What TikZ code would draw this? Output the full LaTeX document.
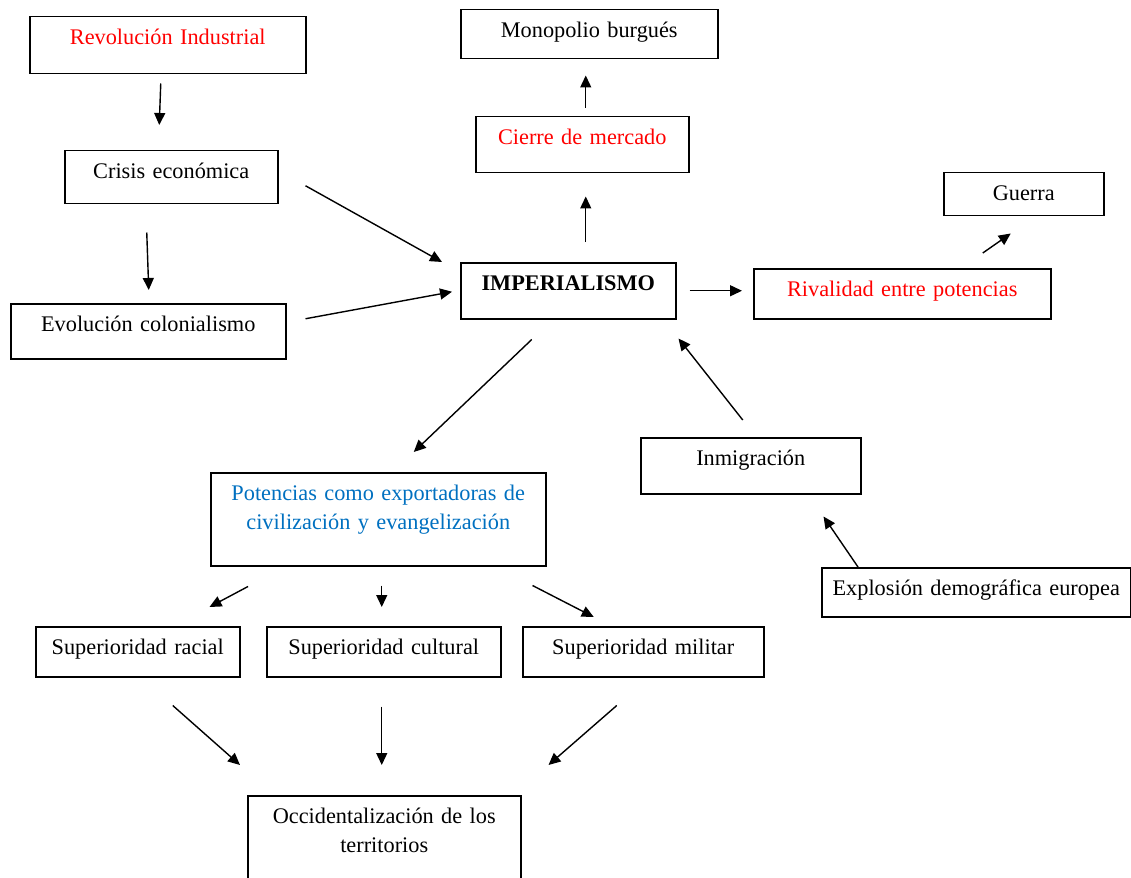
\documentclass[tikz,border=0pt]{standalone}
\usepackage{fontspec}
\setmainfont{Liberation Serif}
\usetikzlibrary{arrows.meta}
\definecolor{wred}{RGB}{255,0,0}
\definecolor{wblue}{RGB}{0,112,192}
\begin{document}
\begin{tikzpicture}[x=1pt,y=-1pt,
  bx/.style args={#1/#2}{draw, line width=1.5pt, inner sep=0pt, anchor=north west,
    text width=#1pt, align=center, text height=28pt, text depth=#2pt,
    font=\fontsize{22.3}{29}\selectfont},
  arr/.style={-{Triangle[length=12pt,width=11pt]}, line width=1.4pt}]
\useasboundingbox (0,0) rectangle (1131,877);
\node[bx=276/29, text=wred] (rev) at (29,16) {Revolución Industrial};
\node[bx=213/25] (crisis) at (64,150) {Crisis económica};
\node[bx=275/27] (evol) at (10,303) {Evolución colonialismo};
\node[bx=257/21] (mono) at (460,9) {Monopolio burgués};
\node[bx=213/28, text=wred] (cierre) at (475,116) {Cierre de mercado};
\node[bx=215/28] (imp) at (460,262) {\textbf{IMPERIALISMO}};
\node[bx=297/22, text=wred] (rival) at (753,268) {Rivalidad entre potencias};
\node[bx=160/15] (guerra) at (943,172) {Guerra};
\node[bx=220/28] (inmig) at (640,437) {Inmigración};
\node[bx=309/21] (explo) at (821,567) {Explosión demográfica europea};
\node[bx=335/65, text=wblue] (poten) at (210,472) {Potencias como exportadoras de\\civilización y evangelización};
\node[bx=204/22] (racial) at (35,626) {Superioridad racial};
\node[bx=234/22] (cultural) at (266,626) {Superioridad cultural};
\node[bx=241/22] (militar) at (522,626) {Superioridad militar};
\node[bx=273/62] (occ) at (247,795) {Occidentalización de los\\territorios};

\draw[arr] ([shift={(-7,9)}]rev.south) -- ([shift={(-12,-25)}]crisis.north);
\draw[arr] ([shift={(-24.5,28)}]crisis.south) -- ([shift={(0.5,-13)}]evol.north);
\draw[arr] ([shift={(27,8.5)}]crisis.east) -- ([shift={(-18,0)}]imp.north west);
\draw[arr] ([shift={(19,-12.5)}]evol.east) -- ([shift={(-8,1)}]imp.west);
\draw[arr] ([shift={(17.5,-20)}]imp.north) -- ([shift={(3.5,23)}]cierre.south);
\draw[arr] ([shift={(3.5,-8)}]cierre.north) -- ([shift={(-3.5,16)}]mono.south);
\draw[arr] ([shift={(13,0)}]imp.east) -- ([shift={(-11,-3)}]rival.west);
\draw[arr] ([shift={(80.5,-15)}]rival.north) -- ([shift={(-13,17)}]guerra.south);
\draw[arr] ([shift={(-8,-17)}]inmig.north) -- ([shift={(2,19)}]imp.south east);
\draw[arr] ([shift={(37,0)}]explo.north west) -- ([shift={(-38,22)}]inmig.south east);
\draw[arr] ([shift={(-36.5,20)}]imp.south) -- ([shift={(35.5,-20)}]poten.north);
\draw[arr] ([shift={(38,20)}]poten.south west) -- ([shift={(-31,-19)}]racial.north east);
\draw[arr] ([shift={(3.5,19)}]poten.south) -- ([shift={(-2,-19)}]cultural.north);
\draw[arr] ([shift={(-14,19)}]poten.south east) -- ([shift={(-49.5,-9)}]militar.north);
\draw[arr] ([shift={(35,28)}]racial.south) -- ([shift={(-7,-30)}]occ.north west);
\draw[arr] ([shift={(-2,29)}]cultural.south) -- ([shift={(-2.5,-30)}]occ.north);
\draw[arr] ([shift={(-26.5,28)}]militar.south) -- ([shift={(27,-30)}]occ.north east);
\end{tikzpicture}
\end{document}
